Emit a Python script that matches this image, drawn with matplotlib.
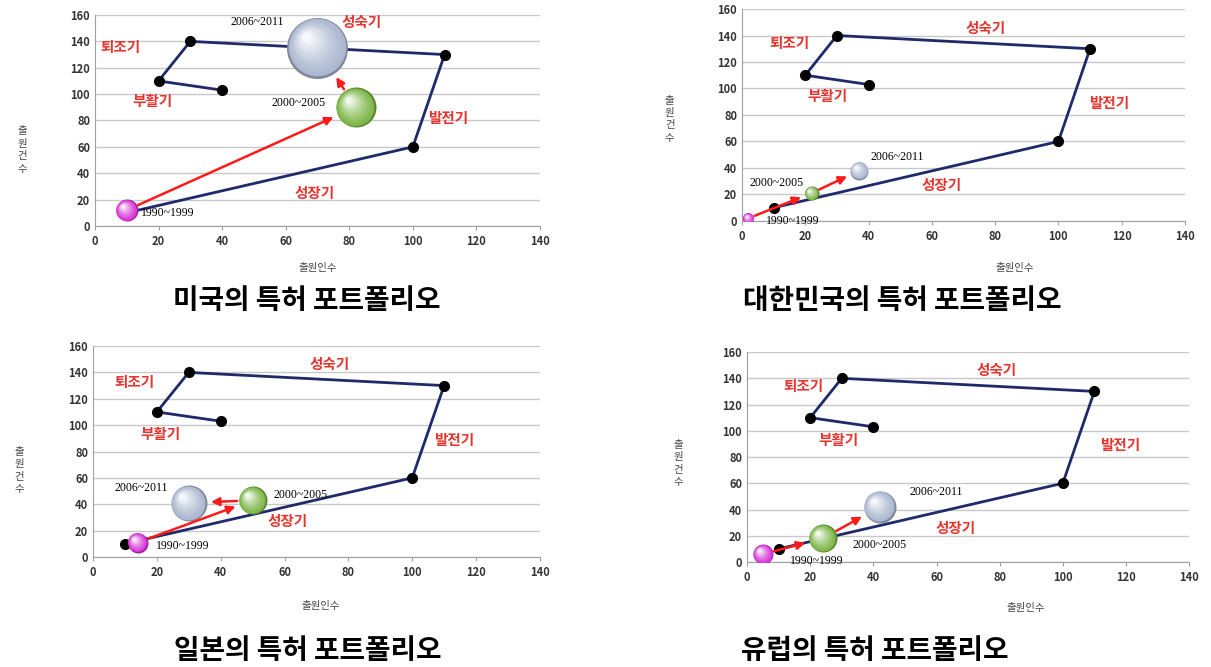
import numpy as np
import matplotlib.pyplot as plt
from matplotlib.transforms import offset_copy
from matplotlib.colors import to_rgb

plt.rcParams['font.family'] = ['Noto Sans CJK KR', 'DejaVu Sans']

# path of the portfolio cycle (same on every chart)
path_x = [10, 100, 110, 30, 20, 40]
path_y = [10, 60, 130, 140, 110, 103]

periods = ['1990~1999', '2000~2005', '2006~2011']
phases = ['퇴조기', '부활기', '성숙기', '발전기', '성장기']

titles = ['미국의 특허 포트폴리오', '대한민국의 특허 포트폴리오',
          '일본의 특허 포트폴리오', '유럽의 특허 포트폴리오']

# bubble positions and diameters (px) per country
bub_x = [[10, 82, 70], [2, 22, 37], [14, 50, 30], [5, 24, 42]]
bub_y = [[12, 90, 135], [2, 21, 38], [11, 43, 41], [6, 18, 42]]
bub_d = [[22, 40, 61], [11, 14, 18], [20, 28, 36], [20, 28, 32]]

# period label positions
per_x = [[23, 64, 51], [16, 11, 49], [28, 65, 15], [22, 42, 60]]
per_y = [[10, 93, 155], [0, 29, 48], [8, 47, 52], [1, 13, 53]]

# phase label positions
ph_x = [[8, 18, 84, 111, 69], [15, 27, 77, 116, 63],
        [13, 21, 74, 113, 61], [18, 29, 79, 118, 66]]
ph_y = [[136, 95, 155, 82, 25], [134, 94, 146, 89, 27],
        [133, 93, 146, 89, 27], [134, 93, 146, 89, 26]]

bub_colors = ['#d62fd6', '#79b443', '#a9b6cf']

axes_pos = [[0.0784, 0.6612, 0.3675, 0.3163],
            [0.6127, 0.6687, 0.3658, 0.3178],
            [0.0768, 0.1649, 0.3690, 0.3163],
            [0.6169, 0.1574, 0.3650, 0.3148]]
ylab_pos = [(-0.164, 0.36), (-0.163, 0.48), (-0.164, 0.41), (-0.156, 0.47)]
xlab_pos = [(0.50, -0.20), (0.616, -0.22), (0.51, -0.23), (0.63, -0.22)]
title_pos = [(0.253, 0.548), (0.745, 0.548), (0.254, 0.024), (0.722, 0.024)]

fig = plt.figure(figsize=(12.11, 6.67), dpi=100)


def sphere(ax, x, y, d_px, color):
    # fake a shaded ball with stacked circles
    base = np.array(to_rgb(color))
    d_pt = d_px * 0.72
    n = 16
    for k in range(n):
        f = k / n
        if k == 0:
            c = base * 0.75
        else:
            c = np.clip(base * (1 - f ** 1.3) + np.ones(3) * f ** 1.3, 0, 1)
        size = (d_pt * (1 - 0.92 * f)) ** 2
        off = 0.2 * d_pt * f
        tr = offset_copy(ax.transData, fig=fig, x=-off, y=off, units='points')
        ax.scatter([x], [y], s=size, color=c, transform=tr, zorder=5 + k * 0.01,
                   linewidths=0)


for i in range(4):
    ax = fig.add_axes(axes_pos[i])
    ax.set_xlim(0, 140)
    ax.set_ylim(0, 160)
    ax.set_xticks(range(0, 141, 20))
    ax.set_yticks(range(0, 161, 20))
    ax.grid(axis='y', color='#c8c8c8', lw=1)
    ax.set_axisbelow(True)
    for s in ['top', 'right']:
        ax.spines[s].set_visible(False)
    for s in ['left', 'bottom']:
        ax.spines[s].set_color('#a0a0a0')
    ax.tick_params(axis='both', labelsize=8, colors='#a0a0a0', labelcolor='#333333',
                   length=3)
    ax.tick_params(axis='y', length=0)
    for lab in ax.get_xticklabels() + ax.get_yticklabels():
        lab.set_fontweight('bold')

    ax.plot(path_x, path_y, color='#1f2a6b', lw=2, zorder=3)
    ax.plot(path_x, path_y, 'o', color='black', ms=7, zorder=4)

    for j in range(3):
        sphere(ax, bub_x[i][j], bub_y[i][j], bub_d[i][j], bub_colors[j])
        ax.text(per_x[i][j], per_y[i][j], periods[j], fontsize=8.5,
                family='Liberation Serif', ha='center', va='center', zorder=7)

    for j in range(2):
        ra = bub_d[i][j] * 0.72 / 2 + 1
        rb = bub_d[i][j + 1] * 0.72 / 2 + 3
        ax.annotate('', xy=(bub_x[i][j + 1], bub_y[i][j + 1]),
                    xytext=(bub_x[i][j], bub_y[i][j]),
                    arrowprops=dict(arrowstyle='-|>', color='#ff1a1a', lw=1.8,
                                    shrinkA=ra, shrinkB=rb, mutation_scale=12),
                    zorder=6)

    for j in range(5):
        ax.text(ph_x[i][j], ph_y[i][j], phases[j], color='#e8342e', fontsize=10.5,
                fontweight='bold', ha='center', va='center')

    ax.text(*ylab_pos[i], '출\n원\n건\n수', transform=ax.transAxes, fontsize=7.5,
            ha='center', va='center', linespacing=1.3, color='#444444')
    ax.text(*xlab_pos[i], '출원인수', transform=ax.transAxes, fontsize=7.5,
            ha='center', va='center', color='#444444')

    fig.text(*title_pos[i], titles[i], fontsize=20, fontweight='bold',
             ha='center', va='center')

fig.savefig('out.png', dpi=100)
